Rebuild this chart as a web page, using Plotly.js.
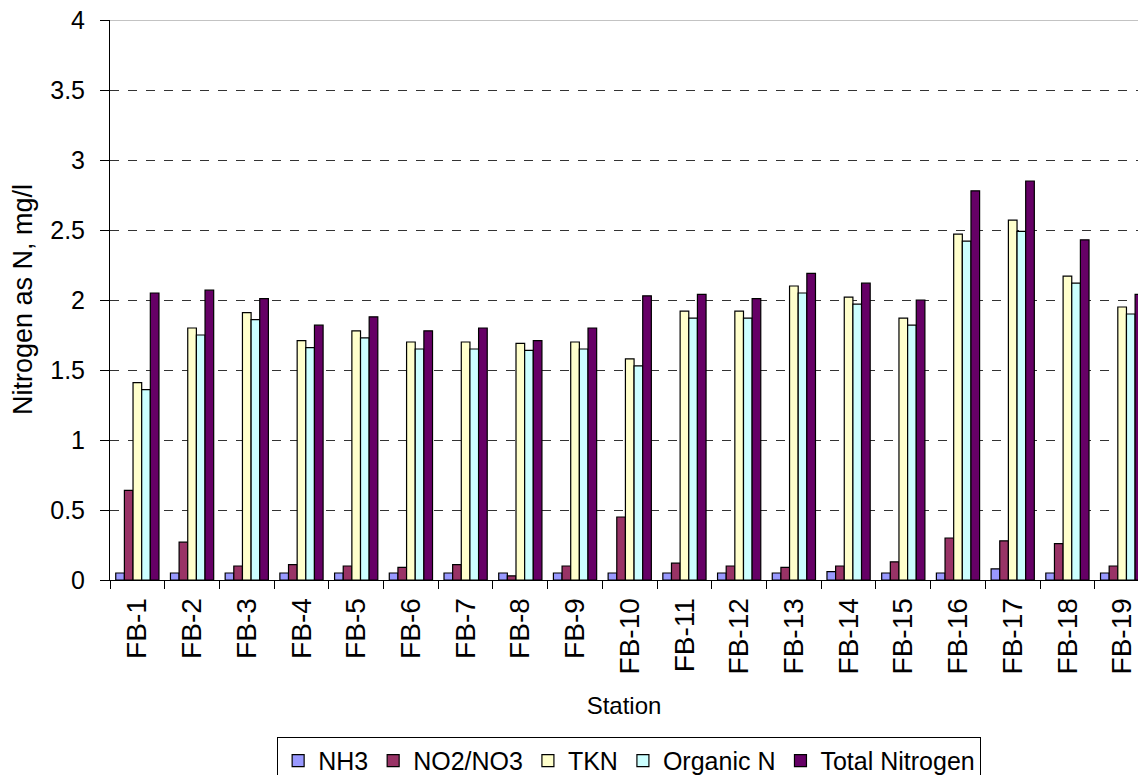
<!DOCTYPE html>
<html>
<head>
<meta charset="utf-8">
<script src="https://cdn.plot.ly/plotly-3.0.1.min.js"></script>
<style>html,body{margin:0;padding:0;overflow:hidden;background:#fff;}#wrap{width:1138px;height:775px;overflow:hidden;}</style>
</head>
<body>
<div id="wrap"><div id="chart" style="width:1138px;height:800px;"></div></div>
<script>
const stations = ["FB-1","FB-2","FB-3","FB-4","FB-5","FB-6","FB-7","FB-8","FB-9","FB-10","FB-11","FB-12","FB-13","FB-14","FB-15","FB-16","FB-17","FB-18","FB-19"];
const nh3      = [0.05,0.05,0.05,0.05,0.05,0.05,0.05,0.05,0.05,0.05,0.05,0.05,0.05,0.06,0.05,0.05,0.08,0.05,0.05];
const no2no3   = [0.64,0.27,0.10,0.11,0.10,0.09,0.11,0.03,0.10,0.45,0.12,0.10,0.09,0.10,0.13,0.30,0.28,0.26,0.10];
const tkn      = [1.41,1.80,1.91,1.71,1.78,1.70,1.70,1.69,1.70,1.58,1.92,1.92,2.10,2.02,1.87,2.47,2.57,2.17,1.95];
const organicN = [1.36,1.75,1.86,1.66,1.73,1.65,1.65,1.64,1.65,1.53,1.87,1.87,2.05,1.97,1.82,2.42,2.49,2.12,1.90];
const totalN   = [2.05,2.07,2.01,1.82,1.88,1.78,1.80,1.71,1.80,2.03,2.04,2.01,2.19,2.12,2.00,2.78,2.85,2.43,2.04];

const seriesNames = ["NH3","NO2/NO3","TKN","Organic N","Total Nitrogen"];
const seriesData = [nh3, no2no3, tkn, organicN, totalN];
const seriesColors = ["#9999FF","#993366","#FFFFCC","#CCFFFF","#660066"];
const yTitle = "Nitrogen as N, mg/l";
const xTitle = "Station";

const font = "Arial, 'Liberation Sans', sans-serif";

const traces = seriesNames.map((n, i) => ({
  type: "bar",
  name: n,
  x: stations,
  y: seriesData[i],
  marker: { color: seriesColors[i], line: { color: "#000", width: 1.2 } },
  hoverinfo: "x+y+name"
}));

const layout = {
  width: 1138, height: 800,
  margin: { l: 110, r: 0, t: 20, b: 220 },
  paper_bgcolor: "#fff", plot_bgcolor: "#fff",
  font: { family: font, size: 24, color: "#000" },
  barmode: "group",
  bargap: 0.21,
  bargroupgap: 0,
  showlegend: true,
  legend: {
    orientation: "h", x: 0.505, xanchor: "center", y: -0.28, yanchor: "top",
    bordercolor: "#000", borderwidth: 1, font: { family: font, size: 25, color: "#000" },
    itemwidth: 30, traceorder: "normal", tracegroupgap: 0
  },
  xaxis: {
    type: "category",
    range: [-0.5, 18.29],
    tickangle: -90,
    ticks: "outside", tickson: "boundaries", ticklen: 8, tickcolor: "#000",
    ticklabelstandoff: 6,
    showline: true, linecolor: "#000", linewidth: 1,
    showgrid: false, zeroline: false,
    tickfont: { family: font, size: 28, color: "#000" },
    title: { text: xTitle, font: { family: font, size: 24, color: "#000" }, standoff: 23 },
    automargin: false, fixedrange: true
  },
  yaxis: {
    range: [0, 4], dtick: 0.5, tick0: 0,
    ticks: "outside", ticklen: 9, tickcolor: "#000",
    ticklabelstandoff: 10,
    showline: true, linecolor: "#000", linewidth: 1,
    showgrid: true, gridcolor: "#333", griddash: "dash", gridwidth: 1,
    zeroline: false,
    tickfont: { family: font, size: 25, color: "#000" },
    automargin: false, fixedrange: true
  },
  annotations: [{
    text: yTitle, textangle: -90, showarrow: false,
    xref: "paper", yref: "paper", x: 0, y: 0.5, xanchor: "center", yanchor: "middle",
    xshift: -87, font: { family: font, size: 27, color: "#000" }
  }],
  shapes: [{ type: "line", xref: "paper", yref: "y", x0: 0, x1: 1, y0: 4, y1: 4, line: { color: "#888", width: 1 } }]
};

Plotly.newPlot("chart", traces, layout, { displayModeBar: false, staticPlot: true });
</script>
</body>
</html>
